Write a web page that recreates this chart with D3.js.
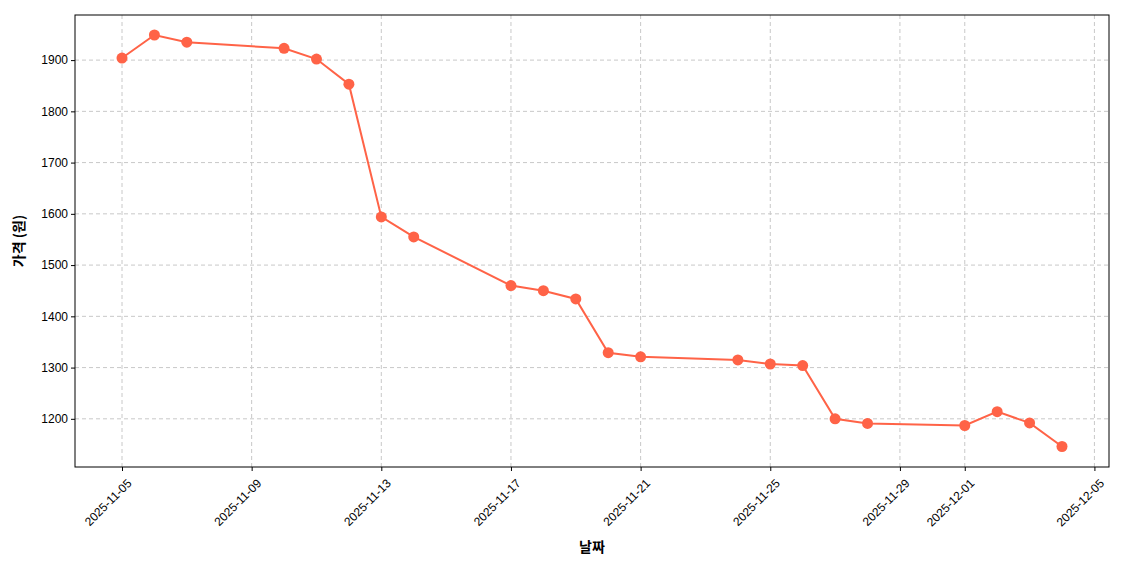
<!DOCTYPE html>
<html><head><meta charset="utf-8">
<script src="https://cdn.jsdelivr.net/npm/d3@7"></script>
<style>body{margin:0;background:#fff;font-family:"Noto Sans CJK KR","Noto Sans",sans-serif;}</style>
</head><body><svg id="chart" width="1140" height="570"></svg>
<script>
var dates = ["2025-11-05","2025-11-06","2025-11-07","2025-11-10","2025-11-11","2025-11-12","2025-11-13","2025-11-14",
  "2025-11-17","2025-11-18","2025-11-19","2025-11-20","2025-11-21","2025-11-24","2025-11-25","2025-11-26",
  "2025-11-27","2025-11-28","2025-12-01","2025-12-02","2025-12-03","2025-12-04"];
var prices = [1904,1949,1935,1923,1902,1853,1594,1555,1460,1450,1434,1329,1321,1315,1307,1304,1200,1191,1187,1214,1192,1146];
var xTicks = ["2025-11-05","2025-11-09","2025-11-13","2025-11-17","2025-11-21","2025-11-25","2025-11-29","2025-12-01","2025-12-05"];
var yTicks = [1200,1300,1400,1500,1600,1700,1800,1900];

var parse = d3.utcParse("%Y-%m-%d"),
    day = 864e5,
    data = dates.map(function(d, i) { return {date: parse(d), price: prices[i]}; }),
    pLeft = 75, pRight = 1109, pTop = 15, pBottom = 467;

var x = d3.scaleUtc()
    .domain([new Date(parse(dates[0]) - 1.45 * day), new Date(+parse(dates[dates.length - 1]) + 1.45 * day)])
    .range([pLeft, pRight]);
var y = d3.scaleLinear().domain([1106, 1988]).range([pBottom, pTop]);

var svg = d3.select("#chart");

// grid
svg.append("g").selectAll("line").data(xTicks).enter().append("line")
    .attr("x1", function(d) { return x(parse(d)); }).attr("x2", function(d) { return x(parse(d)); })
    .attr("y1", pTop).attr("y2", pBottom)
    .attr("stroke", "#c8c8c8").attr("stroke-dasharray", "4,3");
svg.append("g").selectAll("line").data(yTicks).enter().append("line")
    .attr("x1", pLeft).attr("x2", pRight)
    .attr("y1", function(d) { return y(d); }).attr("y2", function(d) { return y(d); })
    .attr("stroke", "#c8c8c8").attr("stroke-dasharray", "4,3");

// axes
var xAxis = svg.append("g").attr("transform", "translate(0," + pBottom + ")")
    .call(d3.axisBottom(x).tickValues(xTicks.map(parse)).tickFormat(d3.utcFormat("%Y-%m-%d")).tickSize(4));
xAxis.selectAll("text")
    .attr("font-size", 12).attr("fill", "#000")
    .attr("text-anchor", "end").attr("dx", "0").attr("dy", "0")
    .attr("transform", "translate(5,12) rotate(-45)");
var yAxis = svg.append("g").attr("transform", "translate(" + pLeft + ",0)")
    .call(d3.axisLeft(y).tickValues(yTicks).tickFormat(d3.format("d")).tickSize(4));
yAxis.selectAll("text").attr("font-size", 12).attr("fill", "#000");
svg.selectAll(".domain").remove();

svg.append("rect").attr("x", pLeft).attr("y", pTop).attr("width", pRight - pLeft).attr("height", pBottom - pTop)
    .attr("fill", "none").attr("stroke", "#000").attr("stroke-width", 1);

// line + points
svg.append("path").datum(data)
    .attr("fill", "none").attr("stroke", "#ff6347").attr("stroke-width", 2)
    .attr("d", d3.line().x(function(d) { return x(d.date); }).y(function(d) { return y(d.price); }));
svg.append("g").selectAll("circle").data(data).enter().append("circle")
    .attr("cx", function(d) { return x(d.date); }).attr("cy", function(d) { return y(d.price); })
    .attr("r", 5.5).attr("fill", "#ff6347");

// labels
svg.append("text").attr("x", (pLeft + pRight) / 2).attr("y", 552).attr("text-anchor", "middle")
    .attr("font-size", 14).attr("font-weight", "bold").text("날짜");
svg.append("text").attr("transform", "translate(24," + ((pTop + pBottom) / 2) + ") rotate(-90)")
    .attr("text-anchor", "middle").attr("font-size", 14).attr("font-weight", "bold").text("가격 (원)");
</script></body></html>
